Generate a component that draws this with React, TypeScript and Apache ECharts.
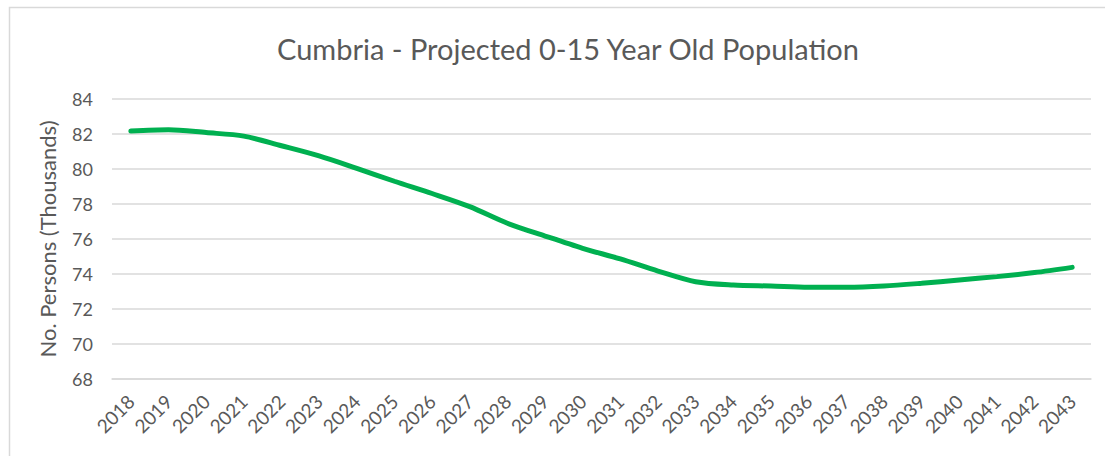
import React, { useEffect, useRef } from "react";
import * as echarts from "echarts";

const years: string[] = [
  "2018", "2019", "2020", "2021", "2022", "2023", "2024", "2025", "2026",
  "2027", "2028", "2029", "2030", "2031", "2032", "2033", "2034", "2035",
  "2036", "2037", "2038", "2039", "2040", "2041", "2042", "2043",
];

const population: number[] = [
  82.17, 82.25, 82.08, 81.88, 81.33, 80.75, 80.04, 79.3, 78.6,
  77.85, 76.9, 76.17, 75.47, 74.86, 74.17, 73.56, 73.37, 73.31,
  73.24, 73.24, 73.31, 73.47, 73.66, 73.85, 74.08, 74.38,
];

const titleText = "Cumbria - Projected 0-15 Year Old Population";
const yAxisName = "No. Persons (Thousands)";
const yMin = 68;
const yMax = 84;
const yStep = 2;

const FONT = "Lato, 'Open Sans', sans-serif";
const TEXT = "#595959";
const GRID = "#D9D9D9";

export default function App() {
  const ref = useRef<HTMLDivElement>(null);

  useEffect(() => {
    if (!ref.current) return;
    const chart = echarts.init(ref.current, undefined, { renderer: "svg" });
    chart.setOption({
      animation: false,
      backgroundColor: "#ffffff",
      textStyle: { fontFamily: FONT },
      title: {
        text: titleText,
        left: 563,
        top: 29,
        textAlign: "center",
        textStyle: {
          fontFamily: FONT,
          fontSize: 29,
          fontWeight: "normal",
          color: TEXT,
        },
      },
      graphic: [
        {
          type: "rect",
          shape: { x: 9.5, y: 7.5, width: 1200, height: 600 },
          style: { fill: "none", stroke: GRID, lineWidth: 1.5 },
          silent: true,
        },
      ],
      grid: { left: 112, right: 14, top: 99, bottom: 77 },
      xAxis: {
        type: "category",
        data: years,
        boundaryGap: true,
        axisLine: { show: true, lineStyle: { color: GRID, width: 1.5 } },
        axisTick: { show: false },
        axisLabel: {
          rotate: 45,
          interval: 0,
          margin: 19,
          color: TEXT,
          fontSize: 19,
          fontFamily: FONT,
        },
      },
      yAxis: {
        type: "value",
        min: yMin,
        max: yMax,
        interval: yStep,
        name: yAxisName,
        nameLocation: "middle",
        nameGap: 54,
        nameTextStyle: { color: TEXT, fontSize: 22, fontFamily: FONT },
        axisLine: { show: false },
        axisTick: { show: false },
        axisLabel: { color: TEXT, fontSize: 18, margin: 19, fontFamily: FONT },
        splitLine: { lineStyle: { color: GRID, width: 1.5 } },
      },
      series: [
        {
          type: "line",
          data: population,
          smooth: 0.3,
          showSymbol: false,
          lineStyle: { color: "#00B050", width: 5, cap: "round" },
        },
      ],
    });
    return () => chart.dispose();
  }, []);

  return (
    <div
      ref={ref}
      style={{ position: "fixed", left: 0, top: 0, width: 1105, height: 456 }}
    />
  );
}
